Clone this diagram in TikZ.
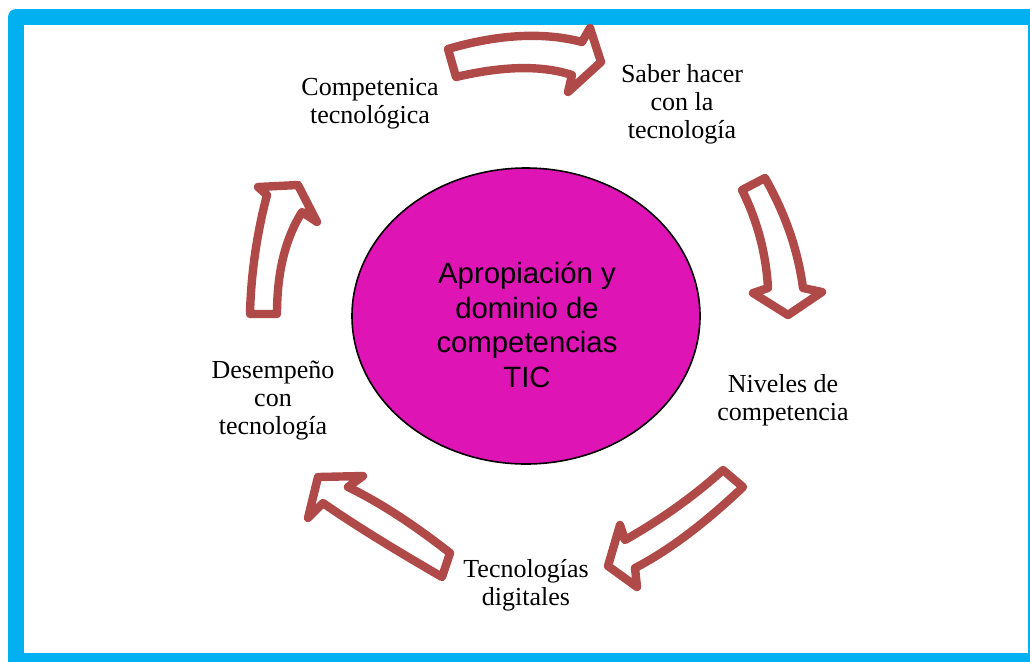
\documentclass[tikz,border=0pt]{standalone}
\usepackage{fontspec}
\setmainfont{Liberation Serif}
\newfontfamily\arialfont{Liberation Sans}
\usetikzlibrary{shapes.geometric}
\definecolor{frameblue}{RGB}{0,176,240}
\definecolor{arrowred}{RGB}{176,74,72}
\definecolor{hubfill}{RGB}{222,20,180}
\begin{document}
\begin{tikzpicture}[x=0.75pt,y=-0.75pt,
  blockarrow/.style={draw=arrowred, line width=6.3pt, fill=white, line join=round},
  lbl/.style={font=\fontsize{19.5}{21}\selectfont, align=center, inner sep=0pt},
  hubtext/.style={font=\arialfont\fontsize{22}{26}\selectfont, align=center, inner sep=0pt}]
\useasboundingbox (0,0) rectangle (1030,661);
\begin{scope}
\clip (0,0) rectangle (1030,661);
\fill[frameblue, rounded corners=6pt] (8,9) rectangle (1050,680);
\fill[white] (24,25) rectangle (1028,653);
\end{scope}
% hub
\node (hub) [ellipse, draw=black, line width=1.2pt, fill=hubfill, minimum width=261pt, minimum height=222pt, inner sep=0pt] at (526,316) {};
\node (hubt) [hubtext] at (527,325) {Apropiación y\\dominio de\\competencias\\TIC};
% arrows
\draw[blockarrow] (448,49) .. controls (499,34) and (544,32) .. (582,42) -- (590,28) -- (601,62) -- (568,92) -- (572,75) .. controls (541,65) and (503,66) .. (456,77) -- cycle;
\draw[blockarrow] (742,190) -- (765,178) .. controls (786,215) and (798,251) .. (803,288) -- (822,292) -- (788,315) -- (753,293) -- (768,288) .. controls (766,253) and (757,220) .. (742,190) -- cycle;
\draw[blockarrow] (723,470) .. controls (694,496) and (662,519) .. (625,540) -- (620,525) -- (608,566) -- (637,587) -- (635,568) .. controls (668,551) and (704,524) .. (743,487) -- cycle;
\draw[blockarrow] (450,553) .. controls (413,524) and (379,502) .. (348,487) -- (363,476) -- (318,477) -- (308,518) -- (323,503) .. controls (359,528) and (399,552) .. (442,577) -- cycle;
\draw[blockarrow] (250,314) .. controls (251,273) and (257,233) .. (267,195) -- (258,187) -- (298,185) -- (317,222) -- (302,212) .. controls (285,239) and (277,273) .. (277,314) -- cycle;
% labels
\node (comp) [lbl] at (370,104) {Competenica\\tecnológica};
\node (saber) [lbl] at (682,104) {Saber hacer\\con la\\tecnología};
\node (niveles) [lbl] at (783,400) {Niveles de\\competencia};
\node (tecdig) [lbl] at (526,585) {Tecnologías\\digitales};
\node (desemp) [lbl] at (273,401) {Desempeño\\con\\tecnología};
\end{tikzpicture}
\end{document}
